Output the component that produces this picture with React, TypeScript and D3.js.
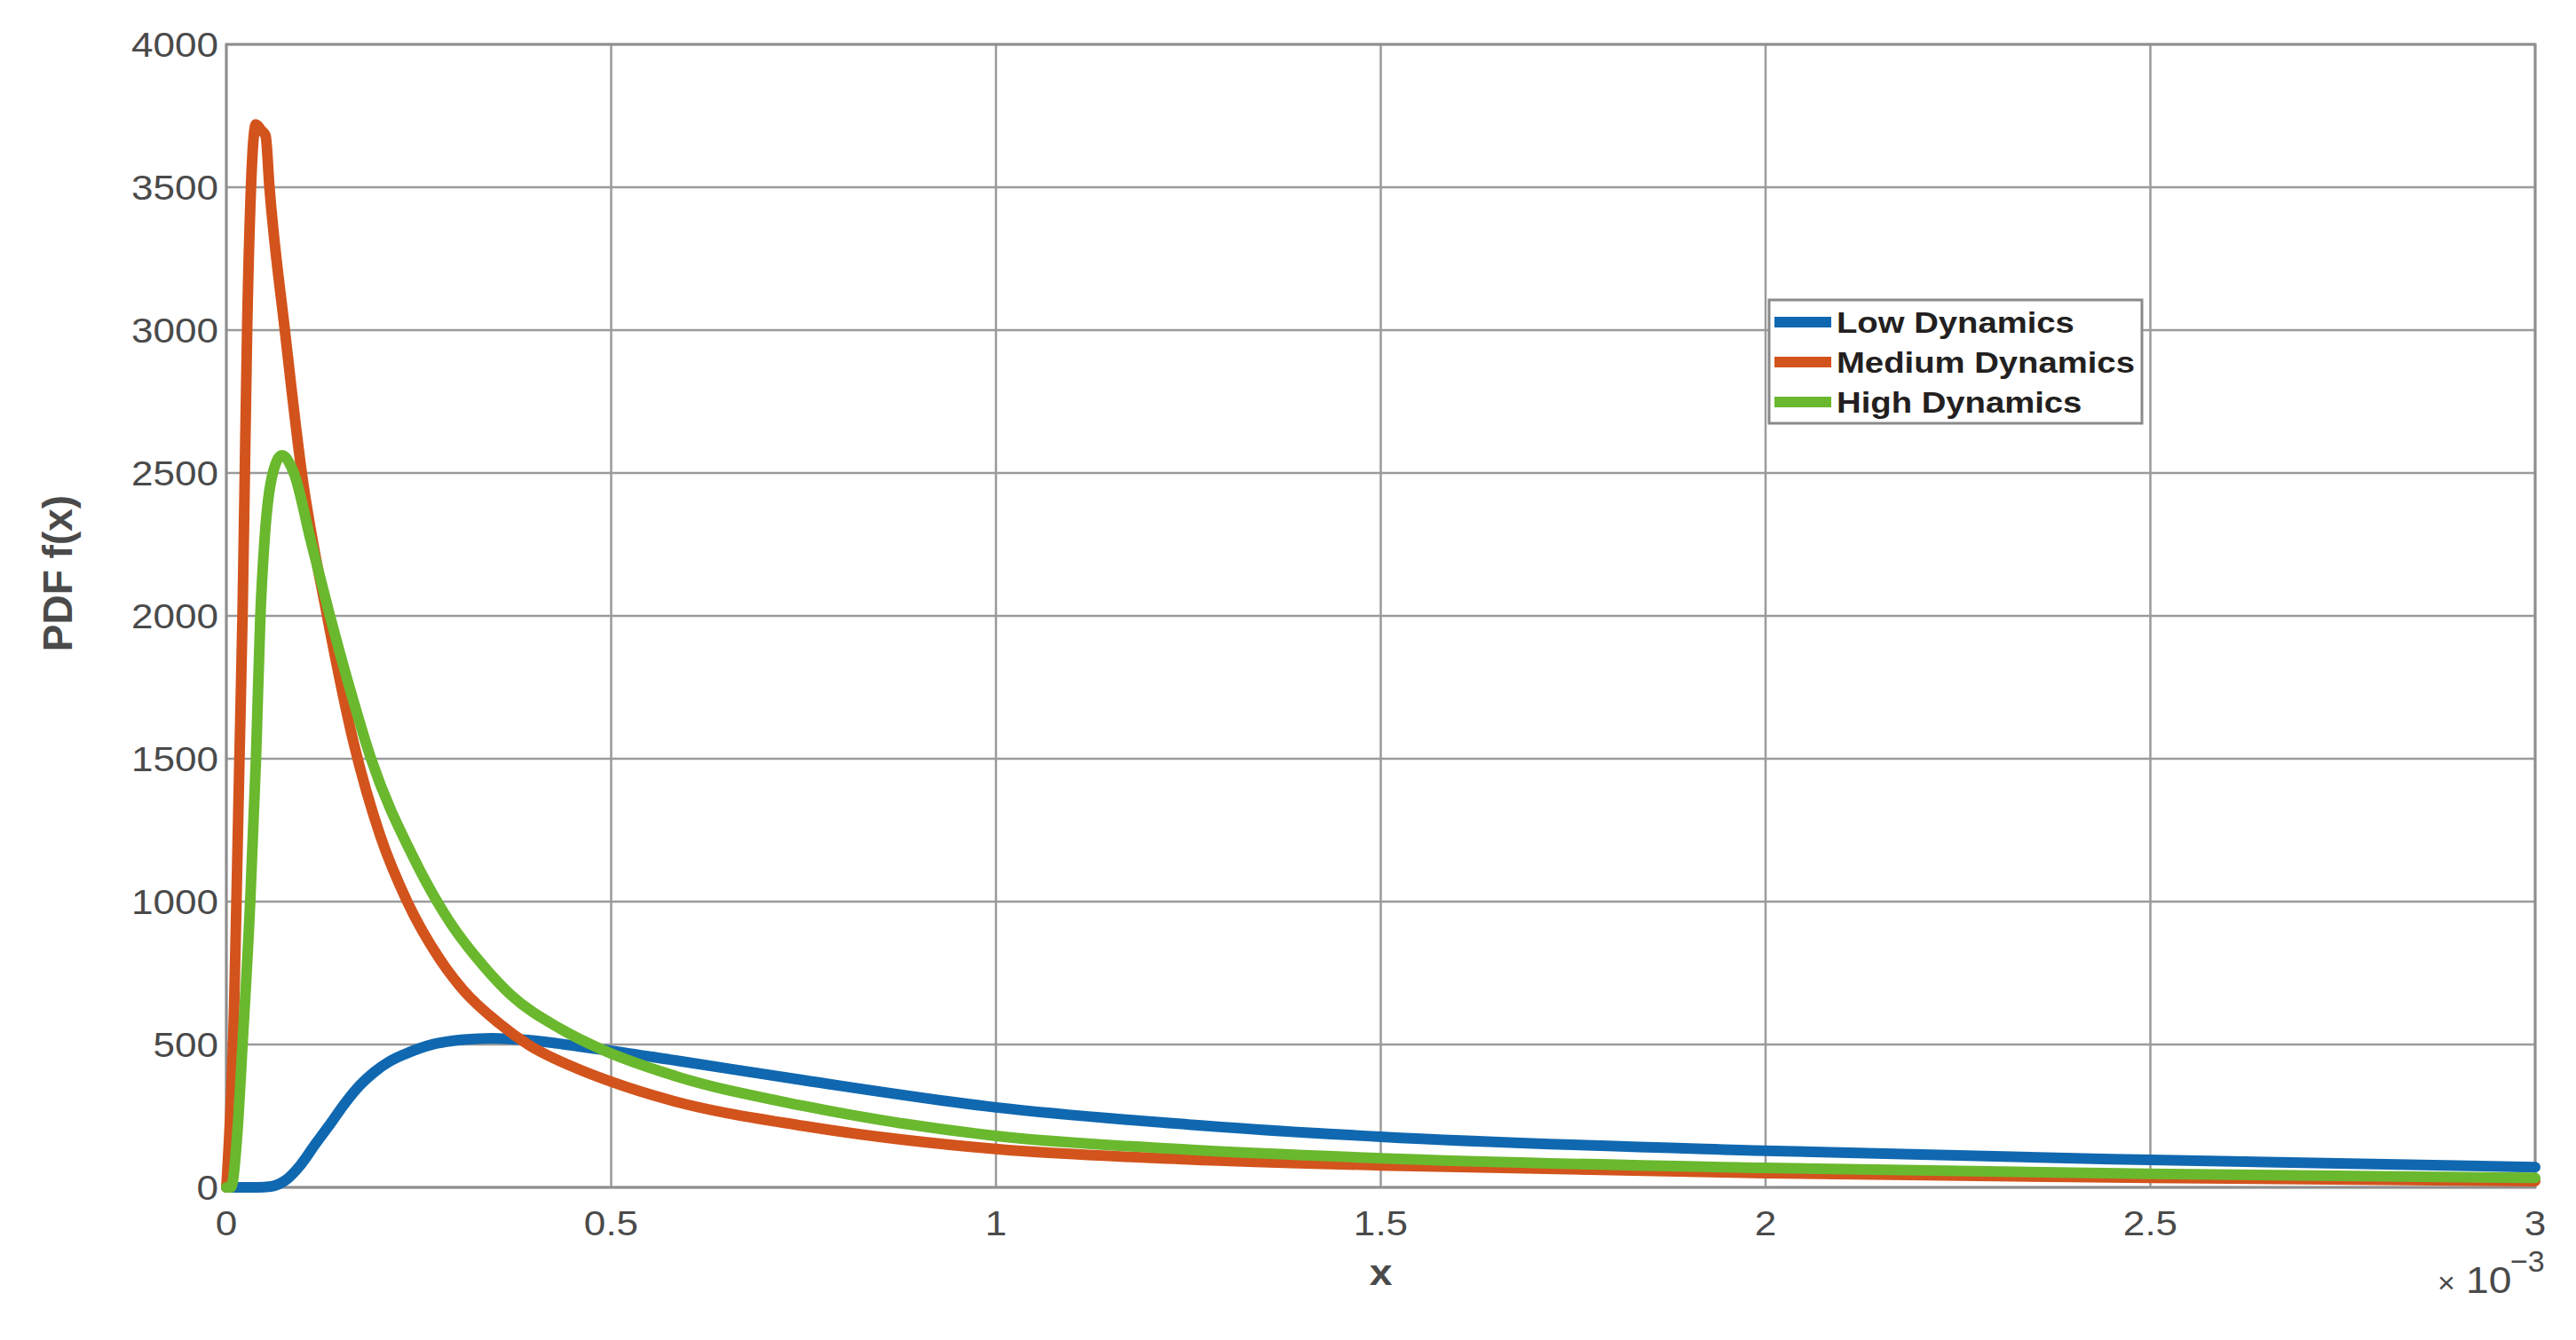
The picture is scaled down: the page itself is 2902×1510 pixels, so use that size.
import React from "react";
import * as d3 from "d3";

// x values are in units of 1e-3
const lowX = [0, 0.04, 0.058, 0.077, 0.096, 0.115, 0.135, 0.154, 0.173, 0.192, 0.211, 0.231, 0.269, 0.308, 0.346, 0.384, 0.423, 0.461, 0.5, 0.577, 0.75, 1.0, 1.25, 1.5, 2.0, 2.5, 3.0];
const lowY = [0, 0, 3, 25, 77, 149, 222, 294, 356, 403, 439, 465, 501, 517, 522, 517, 506, 492, 478, 447, 375, 280, 220, 177, 128, 96, 71];

const medX = [0, 0.005, 0.01, 0.0135, 0.017, 0.021, 0.024, 0.027, 0.032, 0.035, 0.0385, 0.045, 0.051, 0.056, 0.076, 0.098, 0.131, 0.165, 0.2, 0.235, 0.277, 0.308, 0.354, 0.392, 0.461, 0.5, 0.577, 0.75, 1.0, 1.25, 1.5, 2.0, 2.5, 3.0];
const medY = [0, 250, 620, 1050, 1500, 2000, 2500, 3000, 3500, 3660, 3720, 3700, 3680, 3500, 3000, 2500, 2000, 1560, 1230, 1000, 800, 690, 575, 500, 410, 370, 305, 215, 134, 98, 77, 50, 33, 22];

const highX = [0, 0.006, 0.014, 0.021, 0.031, 0.0385, 0.0442, 0.05, 0.0604, 0.0723, 0.0877, 0.11, 0.1346, 0.16, 0.188, 0.242, 0.29, 0.334, 0.369, 0.434, 0.49, 0.577, 0.75, 1.0, 1.25, 1.5, 2.0, 2.5, 3.0];
const highY = [0, 0, 180, 500, 1000, 1500, 2000, 2280, 2500, 2562, 2500, 2260, 2000, 1750, 1500, 1160, 930, 775, 675, 555, 480, 395, 285, 180, 132, 102, 68, 47, 33];

const seriesNames = ["Low Dynamics", "Medium Dynamics", "High Dynamics"];
const seriesColors = ["#1068b0", "#d3531c", "#6ab82e"];

const xTicks = [0, 0.5, 1, 1.5, 2, 2.5, 3];
const yTicks = [0, 500, 1000, 1500, 2000, 2500, 3000, 3500, 4000];

const W = 2902;
const H = 1510;
const M = { left: 255, right: 2856, top: 50, bottom: 1338 };
const FONT = "'Liberation Sans', Arial, Helvetica, sans-serif";
const SX = 1.13;

export default function App() {
  const x = d3.scaleLinear().domain([0, 3]).range([M.left, M.right]);
  const y = d3.scaleLinear().domain([0, 4000]).range([M.bottom, M.top]);
  const line = d3
    .line<[number, number]>()
    .x((d) => x(d[0]))
    .y((d) => y(d[1]))
    .curve(d3.curveMonotoneX);

  const series = [
    { xs: lowX, ys: lowY },
    { xs: medX, ys: medY },
    { xs: highX, ys: highY },
  ].map((s, i) => ({
    name: seriesNames[i],
    color: seriesColors[i],
    pts: s.xs.map((v, j) => [v, s.ys[j]] as [number, number]),
  }));

  const legX = 1993;
  const legY = 338;
  const legW = 420;
  const legH = 139;

  return (
    <svg
      width={W}
      height={H}
      style={{ position: "absolute", left: 0, top: 0, background: "#fff" }}
      fontFamily={FONT}
    >
      <rect x={0} y={0} width={W} height={H} fill="#fff" />
      {/* grid */}
      <g stroke="#9a9a9a" strokeWidth={2.5}>
        {xTicks.map((t) => (
          <line key={"gx" + t} x1={x(t)} x2={x(t)} y1={M.top} y2={M.bottom} />
        ))}
        {yTicks.map((t) => (
          <line key={"gy" + t} x1={M.left} x2={M.right} y1={y(t)} y2={y(t)} />
        ))}
      </g>
      {/* frame */}
      <rect
        x={M.left}
        y={M.top}
        width={M.right - M.left}
        height={M.bottom - M.top}
        fill="none"
        stroke="#8e8e8e"
        strokeWidth={3}
      />
      {/* curves */}
      <g fill="none" strokeWidth={12} strokeLinejoin="round" strokeLinecap="round">
        {series.map((s) => (
          <path key={s.name} d={line(s.pts) || ""} stroke={s.color} />
        ))}
      </g>
      {/* y tick labels */}
      <g fontSize={39} fill="#4a4a4a" textAnchor="end">
        {yTicks.map((t) => (
          <text key={"yt" + t} transform={`translate(${M.left - 9},${y(t)}) scale(${SX},1)`} dy="0.36em">
            {t}
          </text>
        ))}
      </g>
      {/* x tick labels */}
      <g fontSize={39} fill="#4a4a4a" textAnchor="middle">
        {xTicks.map((t) => (
          <text key={"xt" + t} transform={`translate(${x(t)},${M.bottom + 54}) scale(${SX},1)`}>
            {t}
          </text>
        ))}
      </g>
      {/* exponent */}
      <g fill="#4a4a4a">
        <text x={2746} y={1457} fontSize={34}>×</text>
        <text transform={`translate(2778,1457) scale(1.1,1)`} fontSize={42}>10</text>
        <text x={2828} y={1433} fontSize={34}>−3</text>
      </g>
      {/* axis labels */}
      <text
        transform={`translate(${M.left + (M.right - M.left) / 2},1448) scale(${SX},1)`}
        fontSize={41}
        fontWeight="bold"
        fill="#4a4a4a"
        textAnchor="middle"
      >
        x
      </text>
      <text
        transform={`translate(81,646) rotate(-90)`}
        fontSize={46}
        fontWeight="bold"
        fill="#4a4a4a"
        textAnchor="middle"
      >
        PDF f(x)
      </text>
      {/* legend */}
      <rect x={legX} y={legY} width={legW} height={legH} fill="#fff" stroke="#8a8a8a" strokeWidth={3} />
      {series.map((s, i) => {
        const cy = legY + 25 + i * 45;
        return (
          <g key={"leg" + s.name}>
            <line x1={legX + 6} x2={legX + 70} y1={cy} y2={cy} stroke={s.color} strokeWidth={12} />
            <text
              transform={`translate(${legX + 76},${cy + 12}) scale(1.16,1)`}
              fontSize={33}
              fontWeight="bold"
              fill="#231f20"
            >
              {s.name}
            </text>
          </g>
        );
      })}
    </svg>
  );
}
